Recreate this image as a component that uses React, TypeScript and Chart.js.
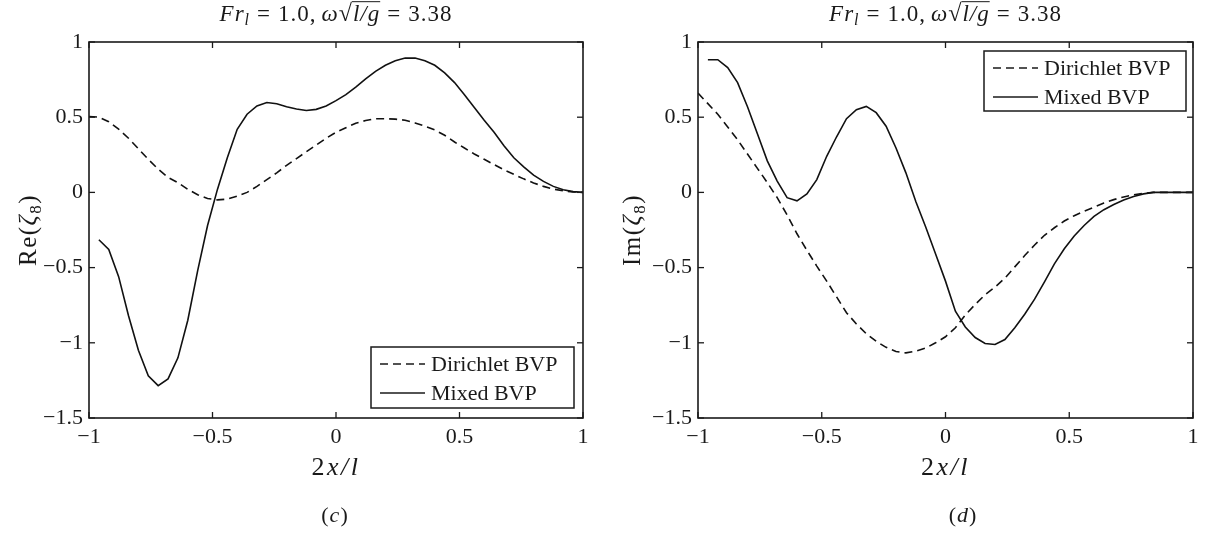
import React, { useEffect, useRef } from "react";
import { Chart, registerables } from "chart.js";

Chart.register(...registerables);

// ---------- data ----------
const X_VALUES = [
  -1.0, -0.96, -0.92, -0.88, -0.84, -0.8, -0.76, -0.72, -0.68, -0.64, -0.6,
  -0.56, -0.52, -0.48, -0.44, -0.4, -0.36, -0.32, -0.28, -0.24, -0.2, -0.16,
  -0.12, -0.08, -0.04, 0.0, 0.04, 0.08, 0.12, 0.16, 0.2, 0.24, 0.28, 0.32,
  0.36, 0.4, 0.44, 0.48, 0.52, 0.56, 0.6, 0.64, 0.68, 0.72, 0.76, 0.8, 0.84,
  0.88, 0.92, 0.96, 1.0,
];

const RE_DIRICHLET = [
  0.505, 0.5, 0.47, 0.42, 0.36, 0.29, 0.22, 0.155, 0.1, 0.065, 0.02, -0.015,
  -0.04, -0.05, -0.045, -0.025, 0.0, 0.04, 0.085, 0.13, 0.18, 0.225, 0.27,
  0.315, 0.36, 0.4, 0.43, 0.46, 0.478, 0.49, 0.49, 0.487, 0.48, 0.462, 0.44,
  0.415, 0.38, 0.335, 0.295, 0.255, 0.22, 0.185, 0.15, 0.12, 0.09, 0.063, 0.04,
  0.022, 0.01, 0.003, 0.0,
];

const RE_MIXED = [
  null, -0.315, -0.38, -0.56, -0.82, -1.05, -1.22, -1.285, -1.24, -1.1, -0.85,
  -0.52, -0.22, 0.02, 0.23, 0.42, 0.52, 0.575, 0.598, 0.59, 0.57, 0.555, 0.545,
  0.552, 0.575, 0.61, 0.65, 0.7, 0.755, 0.805, 0.845, 0.875, 0.893, 0.893,
  0.875, 0.845, 0.795, 0.73, 0.65, 0.565, 0.48, 0.4, 0.31, 0.23, 0.17, 0.115,
  0.073, 0.04, 0.017, 0.005, 0.0,
];

const IM_DIRICHLET = [
  0.66, 0.59, 0.52, 0.435, 0.35, 0.255, 0.16, 0.065, -0.035, -0.15, -0.275,
  -0.385, -0.49, -0.59, -0.695, -0.8, -0.875, -0.94, -0.99, -1.03, -1.058,
  -1.067, -1.055, -1.035, -1.0, -0.96, -0.9, -0.815, -0.745, -0.68, -0.63,
  -0.57, -0.495, -0.42, -0.35, -0.285, -0.235, -0.19, -0.155, -0.125, -0.098,
  -0.07, -0.048, -0.03, -0.016, -0.006, 0.0, 0.0, 0.0, 0.0, 0.0,
];

const IM_MIXED = [
  null, 0.882, 0.882, 0.83, 0.73, 0.57, 0.39, 0.21, 0.075, -0.035, -0.056,
  -0.01, 0.085, 0.24, 0.37, 0.49, 0.55, 0.572, 0.53, 0.44, 0.295, 0.13, -0.06,
  -0.23, -0.41, -0.59, -0.79, -0.895, -0.965, -1.005, -1.011, -0.978, -0.9,
  -0.81, -0.71, -0.595, -0.475, -0.375, -0.29, -0.22, -0.16, -0.115, -0.08,
  -0.05, -0.027, -0.01, 0.0, 0.0, 0.0, 0.0, 0.0,
];

const X_TICKS = [-1, -0.5, 0, 0.5, 1];
const Y_TICKS = [-1.5, -1, -0.5, 0, 0.5, 1];
const SERIES_LABELS = ["Dirichlet BVP", "Mixed BVP"];

// ---------- styling helpers ----------
const FONT = '"Liberation Serif", "Times New Roman", "DejaVu Serif", serif';
const INK = "#1a1a1a";

type Run = { t: string; it?: boolean; s: number; dy?: number; over?: boolean; gap?: number };

const fontOf = (r: Run) => `${r.it ? "italic " : ""}${r.s}px ${FONT}`;

function runWidth(ctx: CanvasRenderingContext2D, r: Run, ls: number) {
  if (r.gap) return r.gap;
  ctx.font = fontOf(r);
  let w = 0;
  for (const ch of Array.from(r.t)) w += ctx.measureText(ch).width + ls;
  return w;
}

function drawRuns(ctx: CanvasRenderingContext2D, runs: Run[], cx: number, base: number, ls = 0) {
  let total = 0;
  for (const r of runs) total += runWidth(ctx, r, ls);
  let x = cx - total / 2;
  ctx.textAlign = "left";
  ctx.textBaseline = "alphabetic";
  for (const r of runs) {
    if (r.gap) {
      x += r.gap;
      continue;
    }
    ctx.font = fontOf(r);
    const start = x;
    for (const ch of Array.from(r.t)) {
      ctx.fillText(ch, x, base + (r.dy || 0));
      x += ctx.measureText(ch).width + ls;
    }
    if (r.over) {
      ctx.beginPath();
      ctx.lineWidth = 1;
      ctx.moveTo(start - 1, base - r.s * 0.84);
      ctx.lineTo(x, base - r.s * 0.84);
      ctx.stroke();
    }
  }
}

const TITLE_RUNS: Run[] = [
  { t: "Fr", it: true, s: 23 },
  { t: "l", it: true, s: 16, dy: 4 },
  { t: "", s: 23, gap: 7 },
  { t: "=", s: 23 },
  { t: "", s: 23, gap: 7 },
  { t: "1.0,", s: 23 },
  { t: "", s: 23, gap: 5 },
  { t: "ω", it: true, s: 23 },
  { t: "√", s: 24 },
  { t: "l/g", it: true, s: 23, over: true },
  { t: "", s: 23, gap: 7 },
  { t: "=", s: 23 },
  { t: "", s: 23, gap: 7 },
  { t: "3.38", s: 23 },
];

const X_LABEL_RUNS: Run[] = [
  { t: "2", s: 26 },
  { t: "x/l", it: true, s: 26 },
];

const fmtTick = (v: number) => {
  if (Math.abs(v) < 1e-9) return "0";
  return (v < 0 ? "\u2212" : "") + String(Math.abs(v));
};

type Deco = {
  yLabel: Run[];
  yLabelX: number;
  caption: Run[];
  captionX: number;
  legend: { x: number; y: number; w: number; h: number };
};

function makeDeco(o: Deco) {
  return {
    id: "deco",
    afterDraw(chart: any) {
      const { ctx, chartArea: a, scales } = chart;
      ctx.save();
      ctx.strokeStyle = INK;
      ctx.fillStyle = INK;

      // frame
      ctx.lineWidth = 1.6;
      ctx.strokeRect(a.left, a.top, a.right - a.left, a.bottom - a.top);

      // inward tick marks on all four sides
      ctx.lineWidth = 1.3;
      const seg = (x1: number, y1: number, x2: number, y2: number) => {
        ctx.beginPath();
        ctx.moveTo(x1, y1);
        ctx.lineTo(x2, y2);
        ctx.stroke();
      };
      for (const v of X_TICKS) {
        const px = scales.x.getPixelForValue(v);
        seg(px, a.bottom, px, a.bottom - 6);
        seg(px, a.top, px, a.top + 6);
      }
      for (const v of Y_TICKS) {
        const py = scales.y.getPixelForValue(v);
        seg(a.left, py, a.left + 6, py);
        seg(a.right, py, a.right - 6, py);
      }

      // legend box
      const L = o.legend;
      ctx.fillStyle = "#ffffff";
      ctx.fillRect(L.x, L.y, L.w, L.h);
      ctx.lineWidth = 1.5;
      ctx.strokeStyle = INK;
      ctx.strokeRect(L.x, L.y, L.w, L.h);
      chart.data.datasets.forEach((ds: any, i: number) => {
        const cy = L.y + 17 + i * 29;
        ctx.save();
        ctx.lineWidth = 1.6;
        ctx.setLineDash(ds.borderDash || []);
        ctx.beginPath();
        ctx.moveTo(L.x + 9, cy);
        ctx.lineTo(L.x + 54, cy);
        ctx.stroke();
        ctx.restore();
        ctx.fillStyle = INK;
        ctx.font = `22px ${FONT}`;
        ctx.textAlign = "left";
        ctx.textBaseline = "alphabetic";
        ctx.fillText(ds.label, L.x + 60, cy + 7);
      });

      // texts
      ctx.fillStyle = INK;
      ctx.strokeStyle = INK;
      const cx = (a.left + a.right) / 2;
      drawRuns(ctx, TITLE_RUNS, cx, 21, 1);
      drawRuns(ctx, X_LABEL_RUNS, cx, 475, 2.5);
      drawRuns(ctx, o.caption, o.captionX, 522, 1);
      ctx.save();
      ctx.translate(o.yLabelX, (a.top + a.bottom) / 2);
      ctx.rotate(-Math.PI / 2);
      drawRuns(ctx, o.yLabel, 0, 0, 1.5);
      ctx.restore();

      ctx.restore();
    },
  };
}

function buildConfig(
  dir: (number | null)[],
  mix: (number | null)[],
  yWidth: number,
  padRight: number,
  deco: Deco
): any {
  const toPts = (arr: (number | null)[]) =>
    X_VALUES.map((x, i) => ({ x, y: arr[i] })).filter((p) => p.y !== null);
  const tickFont = { family: FONT, size: 22 };
  return {
    type: "line",
    data: {
      datasets: [
        {
          label: SERIES_LABELS[0],
          data: toPts(dir),
          borderColor: "#111111",
          borderWidth: 1.6,
          borderDash: [8, 5],
          pointRadius: 0,
          tension: 0,
          fill: false,
        },
        {
          label: SERIES_LABELS[1],
          data: toPts(mix),
          borderColor: "#111111",
          borderWidth: 1.6,
          pointRadius: 0,
          tension: 0,
          fill: false,
        },
      ],
    },
    options: {
      animation: false,
      responsive: false,
      maintainAspectRatio: false,
      devicePixelRatio: 1,
      layout: { padding: { left: 0, right: padRight, top: 42, bottom: 0 } },
      plugins: {
        legend: { display: false },
        tooltip: { enabled: false },
        title: { display: false },
      },
      scales: {
        x: {
          type: "linear",
          min: -1,
          max: 1,
          afterBuildTicks: (s: any) => {
            s.ticks = X_TICKS.map((v) => ({ value: v }));
          },
          afterFit: (s: any) => {
            s.height = 120;
          },
          ticks: {
            font: tickFont,
            color: INK,
            padding: 6,
            maxRotation: 0,
            autoSkip: false,
            callback: (v: number) => fmtTick(v),
          },
          grid: { display: false, drawTicks: false },
          border: { display: false },
        },
        y: {
          type: "linear",
          min: -1.5,
          max: 1,
          afterBuildTicks: (s: any) => {
            s.ticks = Y_TICKS.map((v) => ({ value: v }));
          },
          afterFit: (s: any) => {
            s.width = yWidth;
          },
          ticks: {
            font: tickFont,
            color: INK,
            padding: 6,
            autoSkip: false,
            callback: (v: number) => fmtTick(v),
          },
          grid: { display: false, drawTicks: false },
          border: { display: false },
        },
      },
    },
    plugins: [makeDeco(deco)],
  };
}

function Panel(props: {
  left: number;
  dir: (number | null)[];
  mix: (number | null)[];
  yWidth: number;
  padRight: number;
  deco: Deco;
}) {
  const ref = useRef<HTMLCanvasElement>(null);
  useEffect(() => {
    const chart = new Chart(
      ref.current as HTMLCanvasElement,
      buildConfig(props.dir, props.mix, props.yWidth, props.padRight, props.deco)
    );
    return () => chart.destroy();
  }, []);
  return (
    <canvas
      ref={ref}
      width={603}
      height={538}
      style={{ position: "absolute", left: props.left, top: 0, width: 603, height: 538, display: "block" }}
    />
  );
}

export default function App() {
  return (
    <div
      style={{
        position: "absolute",
        left: 0,
        top: 0,
        width: 1206,
        height: 538,
        background: "#ffffff",
        overflow: "hidden",
      }}
    >
      <Panel
        left={0}
        dir={RE_DIRICHLET}
        mix={RE_MIXED}
        yWidth={89}
        padRight={20}
        deco={{
          yLabel: [
            { t: "Re(", s: 25 },
            { t: "ζ", it: true, s: 25 },
            { t: "8", s: 17, dy: 5 },
            { t: ")", s: 25 },
          ],
          yLabelX: 36,
          caption: [
            { t: "(", s: 22 },
            { t: "c", it: true, s: 22 },
            { t: ")", s: 22 },
          ],
          captionX: 335,
          legend: { x: 371, y: 347, w: 203, h: 61 },
        }}
      />
      <Panel
        left={603}
        dir={IM_DIRICHLET}
        mix={IM_MIXED}
        yWidth={95}
        padRight={13}
        deco={{
          yLabel: [
            { t: "Im(", s: 25 },
            { t: "ζ", it: true, s: 25 },
            { t: "8", s: 17, dy: 5 },
            { t: ")", s: 25 },
          ],
          yLabelX: 37,
          caption: [
            { t: "(", s: 22 },
            { t: "d", it: true, s: 22 },
            { t: ")", s: 22 },
          ],
          captionX: 360,
          legend: { x: 381, y: 51, w: 202, h: 60 },
        }}
      />
    </div>
  );
}
